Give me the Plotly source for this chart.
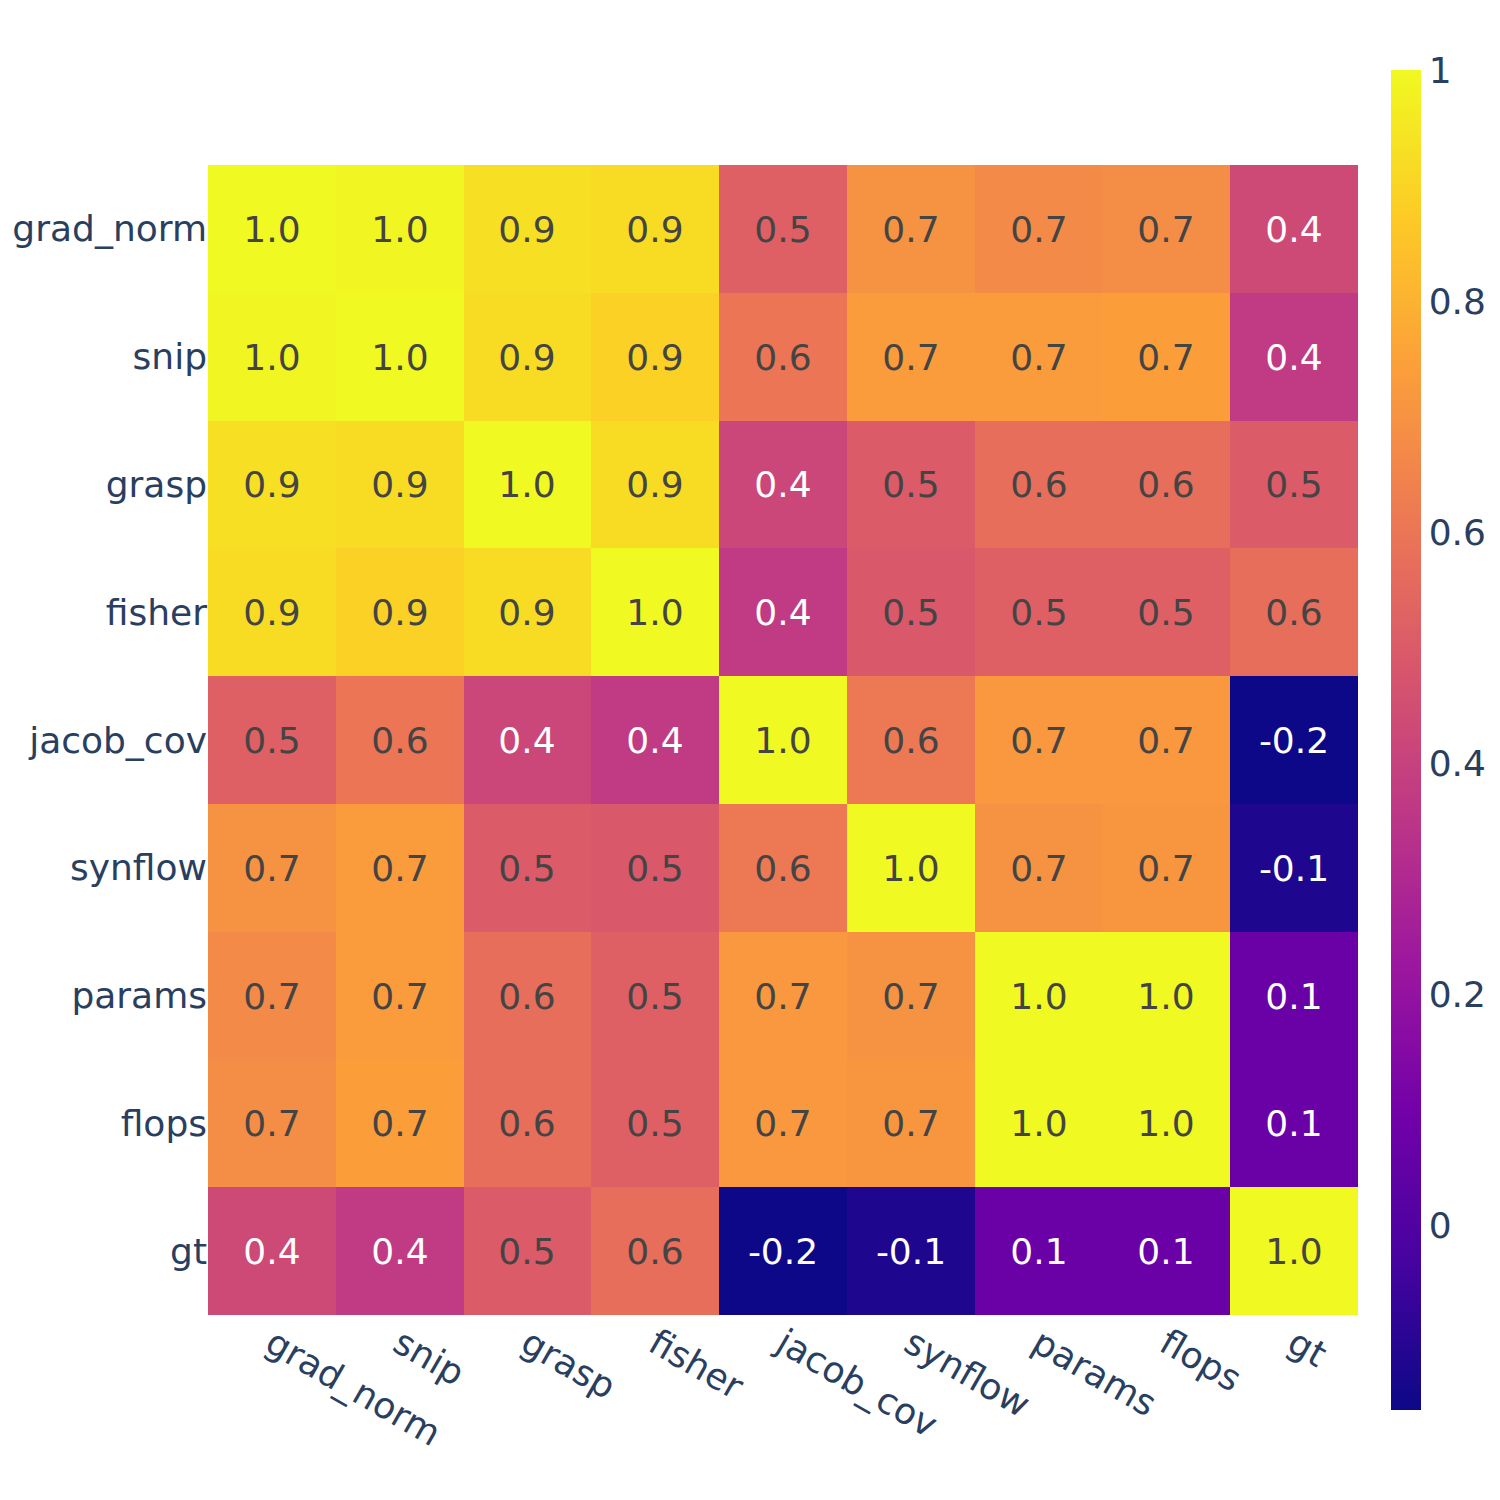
import plotly.graph_objects as go

labels = ["grad_norm", "snip", "grasp", "fisher", "jacob_cov", "synflow", "params", "flops", "gt"]

grad_norm = [1.00, 0.99, 0.93, 0.92, 0.52, 0.70, 0.67, 0.68, 0.43]
snip      = [0.99, 1.00, 0.92, 0.89, 0.60, 0.73, 0.73, 0.74, 0.37]
grasp     = [0.93, 0.92, 1.00, 0.92, 0.42, 0.50, 0.57, 0.57, 0.50]
fisher    = [0.92, 0.89, 0.92, 1.00, 0.37, 0.49, 0.52, 0.52, 0.57]
jacob_cov = [0.52, 0.60, 0.42, 0.37, 1.00, 0.61, 0.72, 0.72, -0.16]
synflow   = [0.70, 0.73, 0.50, 0.49, 0.61, 1.00, 0.70, 0.71, -0.12]
params    = [0.67, 0.73, 0.57, 0.52, 0.72, 0.70, 1.00, 1.00, 0.07]
flops     = [0.68, 0.74, 0.57, 0.52, 0.72, 0.71, 1.00, 1.00, 0.07]
gt        = [0.43, 0.37, 0.50, 0.57, -0.16, -0.12, 0.07, 0.07, 1.00]

z = [grad_norm, snip, grasp, fisher, jacob_cov, synflow, params, flops, gt]

fig = go.Figure(go.Heatmap(
    z=z, x=labels, y=labels,
    colorscale="Plasma",
    texttemplate="%{z:.1f}",
    textfont=dict(size=36),
    colorbar=dict(thickness=30, tickfont=dict(size=36), outlinewidth=0),
))
fig.update_layout(
    width=1500, height=1500,
    font=dict(family="DejaVu Sans", size=36, color="#2a3f5f"),
    plot_bgcolor="white", paper_bgcolor="white",
    margin=dict(l=200, r=150, t=52, b=88),
)
fig.update_xaxes(tickangle=30, showgrid=False, constrain="domain", scaleanchor="y", scaleratio=1,
                 ticks="", automargin=False)
fig.update_yaxes(autorange="reversed", showgrid=False, constrain="domain", ticks="", automargin=False)
fig.write_html("out.html")
